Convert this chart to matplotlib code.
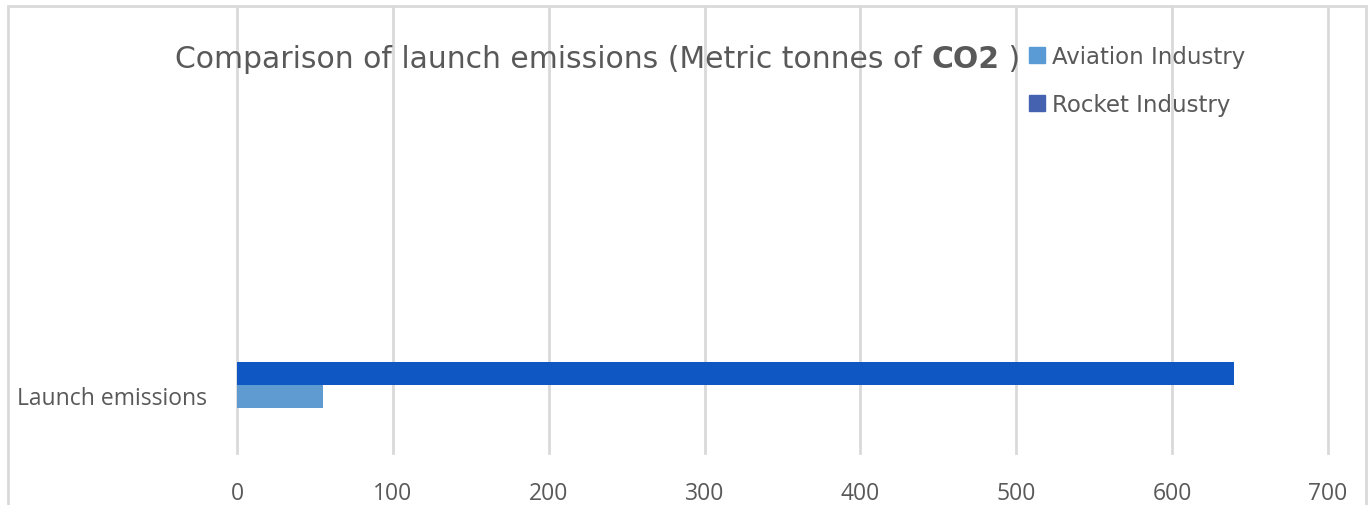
import matplotlib
matplotlib.use("Agg")
import matplotlib.pyplot as plt
from matplotlib.patches import Rectangle, Patch

series = ["Aviation Industry", "Rocket Industry"]
values = [55, 640]
category = "Launch emissions"
xticks = [0, 100, 200, 300, 400, 500, 600, 700]

bar_colors = ["#5f9bd0", "#0f57c3"]
legend_colors = ["#5b9bd5", "#4462b0"]

plt.rcParams["font.family"] = ["Open Sans", "DejaVu Sans"]
grey = "#595959"

W, H = 1370, 506
fig = plt.figure(figsize=(W / 100, H / 100), dpi=100)

# chart border
fig.patches.append(Rectangle((8 / W, -0.1), 1358 / W, 1.1 - 7 / H,
                             transform=fig.transFigure, fill=False,
                             edgecolor="#d9d9d9", linewidth=2))

ax = fig.add_axes([237 / W, 1 - 454 / H, (1328 - 237) / W, 446 / H])
h = 0.2
ax.barh([-h / 2], [values[0]], height=h, color=bar_colors[0])
ax.barh([h / 2], [values[1]], height=h, color=bar_colors[1])
ax.set_xlim(0, 700)
ax.set_ylim(-0.591, 3.287)
ax.set_xticks(xticks)
ax.set_xticklabels([str(t) for t in xticks], fontsize=16.5, color=grey)
# category label sits a little below the bar pair, like in the original
ax.set_yticks([-0.09])
ax.set_yticklabels([category], fontsize=16.5, color=grey)
ax.tick_params(length=0)
ax.tick_params(axis="x", pad=20)
ax.tick_params(axis="y", pad=21.5)
for s in ax.spines.values():
    s.set_visible(False)
ax.grid(axis="x", color="#d9d9d9", linewidth=2)
for gl in ax.get_xgridlines():
    gl.set_clip_on(False)
ax.set_axisbelow(True)

# title with bold CO2
fig.canvas.draw()
r = fig.canvas.get_renderer()
ty = 1 - 60 / H
tfont = dict(fontsize=21.5, color=grey, va="center", family="DejaVu Sans")
t1 = fig.text(175 / W, ty, "Comparison of launch emissions (Metric tonnes of ", **tfont)
ext = t1.get_window_extent(r)
t2 = fig.text(ext.x1 / W, ty, "CO2", weight="bold", **tfont)
ext2 = t2.get_window_extent(r)
fig.text(ext2.x1 / W, ty, " )", **tfont)

handles = [Patch(color=c) for c in legend_colors]
fig.legend(handles, series, loc="upper left", bbox_to_anchor=(1008 / W, 1 - 25 / H),
           frameon=False, labelcolor=grey,
           handlelength=0.7, handleheight=0.7, handletextpad=0.3,
           labelspacing=1.1, prop={"family": "DejaVu Sans", "size": 16.5})

fig.savefig("out.png", dpi=100)
